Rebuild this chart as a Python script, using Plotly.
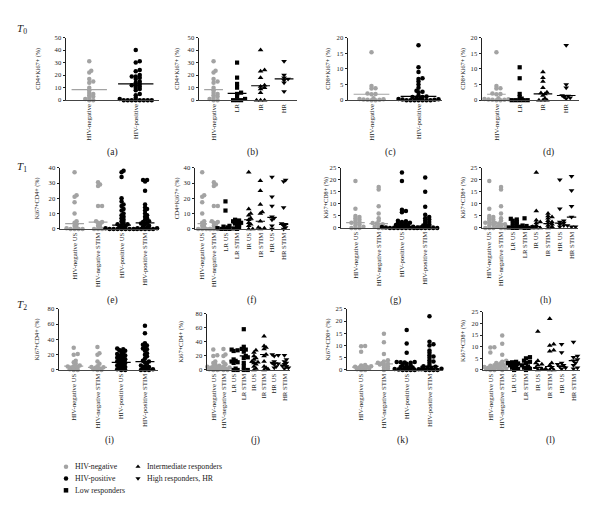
import plotly.graph_objects as go

W, H = 600, 517
GRAY = "#a3a3a3"
FONT = "Liberation Serif"

# ---- categories ----
CATS_T0 = ["HIV-negative", "HIV-positive"]
CATS_T0_R = ["HIV-negative", "LR", "IR", "HR"]
CATS_T = ["HIV-negative US", "HIV-negative STIM", "HIV-positive US", "HIV-positive STIM"]
CATS_T_R = ["HIV-negative US", "HIV-negative STIM", "LR US", "LR STIM",
            "IR US", "IR STIM", "HR US", "HR STIM"]

# ---- T0 CD4+Ki67+ ----
A_NEG = [31, 23.5, 22, 17, 15, 14, 10, 8, 6, 5, 4, 3, 2, 1, 0, 0]
A_POS = [40, 31, 30, 24, 23, 20, 19, 19, 18, 17, 15, 14, 13, 12, 12, 11, 10, 9, 8,
         5, 4, 2, 1, 0, 0, 0, 0, 0, 0, 0, 0]
B_LR = [30, 18, 13, 10, 6, 5, 3, 1, 0, 0, 0]
B_IR = [40, 24, 23, 18, 12, 11, 10, 9, 6, 0, 0, 0]
B_HR = [31, 20, 18, 17, 16, 14, 7]
MED_A = [8.5, 13]
MED_B = [8.5, 5.5, 11.5, 17]

# ---- T0 CD8+Ki67+ ----
C_NEG = [15.3, 4.5, 3.8, 3.7, 2.1, 2.0, 1.9, 0.6, 0.4, 0.3, 0.2, 0.1, 0.1, 0, 0]
C_POS = [17.5, 10.5, 9.0, 7.0, 6.8, 6.0, 5.0, 4.0, 3.0, 2.7, 2.5, 1.5, 1.2, 1.0, 1.0,
         0.8, 0.5, 0.4, 0.3, 0.2, 0.1, 0, 0, 0, 0, 0, 0, 0]
D_LR = [10.5, 7, 2, 1, 0.5, 0, 0, 0, 0, 0]
D_IR = [9, 7.2, 6, 4, 2.5, 2.3, 2, 1.5, 0.5, 0, 0, 0]
D_HR = [17.5, 5, 4, 1.5, 1.3, 1, 0.8, 0.5]
MED_C = [1.9, 1.2]
MED_D = [1.9, 0.1, 2.0, 1.5]

# ---- T1 CD4 ----
E_NEG_US = [37, 22, 21, 17.5, 10, 5, 4, 3, 2, 1, 0.5, 0, 0, 0, 0]
E_NEG_ST = [30.5, 29, 28, 15, 15, 5, 4.5, 4, 3, 2, 1, 0, 0, 0]
E_POS_US = [38, 37, 34, 20, 18, 16, 15, 13, 12, 10, 9, 8, 7, 6, 5, 4, 3, 3, 2.5, 2,
            1.5, 1, 0.5, 0.5, 0, 0, 0, 0, 0, 0, 0]
E_POS_ST = [32, 32, 31, 25, 16, 14, 13, 12, 10, 9, 8, 7, 6, 5, 4.5, 4, 3.5, 3, 2,
            1.5, 1, 0.5, 0, 0, 0, 0, 0]
F_LR_US = [18, 12, 2, 1.5, 1, 0.8, 0.5, 0.3, 0, 0, 0]
F_LR_ST = [6, 5.5, 5, 4.5, 4, 3.5, 3, 2, 1, 0]
F_IR_US = [37, 13, 10, 9, 7, 6, 4, 3, 2, 0, 0]
F_IR_ST = [31.5, 25, 16, 11, 10, 5, 1, 0.5, 0]
F_HR_US = [34, 21, 15, 8, 7, 6, 2, 0]
F_HR_ST = [32, 31, 14, 3.5, 3, 2, 1, 0]
MED_E = [3.5, 4.5, 2.5, 4]
MED_F = [3.5, 4.5, 0.5, 3.5, 6, 5, 7.5, 3]

# ---- T1 CD8 ----
G_NEG_US = [19.5, 8, 5, 4.5, 4, 3.5, 3, 2.5, 2.2, 2, 1.5, 1, 0.5, 0, 0, 0]
G_NEG_ST = [17, 16, 9, 6, 4, 3, 2, 1.8, 1.5, 1, 0.5, 0, 0]
G_POS_US = [23, 19.5, 7.5, 7, 6.5, 3, 2.8, 2.5, 2.2, 2, 1.8, 1.5, 1.2, 1, 0.8, 0.7,
            0.5, 0.4, 0.3, 0.2, 0.1, 0, 0, 0, 0, 0, 0, 0]
G_POS_ST = [21, 15, 8.8, 5.5, 4.5, 4, 3.5, 3, 2.5, 2, 1.5, 1, 0.8, 0.5, 0.5, 0, 0, 0,
            0, 0, 0]
H_LR_US = [3.8, 3.5, 3, 2.5, 2, 1.5, 1, 0.5, 0.2, 0, 0]
H_LR_ST = [4, 1, 0.8, 0.5, 0.3, 0.2, 0, 0]
H_IR_US = [23, 7, 3.2, 2.5, 2, 1, 0.5, 0, 0]
H_IR_ST = [6, 5, 4.5, 4, 3, 2.5, 2, 1.5, 1, 0.5, 0]
H_HR_US = [20, 8, 3, 2.5, 2, 1.5, 1, 0.5]
H_HR_ST = [21.5, 15.5, 9, 4.5, 1, 0.5, 0.5]
MED_G = [2.2, 1.8, 0.7, 0.8]
MED_H = [2.2, 1.8, 0.5, 0.3, 0.5, 1.8, 2, 4.5]

# ---- T2 CD4 ----
I_NEG_US = [29, 21, 20, 12, 10, 8, 6, 5, 4.5, 4, 3, 2, 1, 0, 0]
I_NEG_ST = [30, 22, 20, 11, 8, 5, 4, 3.5, 3, 2, 1, 0, 0]
I_POS_US = [28, 27, 26, 25, 24, 22, 21, 20, 19, 18, 17, 16, 15, 14, 13, 12, 11, 10,
            9, 8, 7, 6, 5, 4, 3, 2, 1, 0, 0]
I_POS_ST = [58, 48, 35, 33, 32, 30, 28, 27, 25, 22, 20, 18, 15, 12, 11, 10, 8, 6, 5,
            4, 3, 2, 1, 0, 0, 0]
J_LR_US = [29, 28, 27, 15, 13, 12, 11, 10, 2, 0, 0]
J_LR_ST = [58, 33, 30, 29, 26, 20, 18, 17, 10, 5, 0, 0]
J_IR_US = [28, 25, 20, 17, 15, 12, 11, 10, 8, 5, 2, 0]
J_IR_ST = [48, 34, 32, 30, 22, 20, 12, 5, 3, 1, 0]
J_HR_US = [22, 21, 20, 12, 10, 9, 8, 5, 3]
J_HR_ST = [21, 15, 12, 10, 8, 6, 5, 3, 2]
MED_I = [5, 3.5, 10, 11]
MED_J = [5, 3.5, 13, 20, 11, 22, 10, 6]

# ---- T2 CD8 ----
K_NEG_US = [9.8, 9.7, 7.5, 2, 1.8, 1.5, 1.3, 1.2, 1, 0.8, 0.5, 0.3, 0, 0]
K_NEG_ST = [14.8, 11.3, 6.5, 4, 3.5, 3, 2.8, 2.5, 2.2, 2, 1.5, 1, 0.5, 0]
K_POS_US = [16.3, 10.8, 7, 3.3, 3.3, 3.2, 3.1, 3, 2.5, 2, 1.8, 1.5, 1.2, 1, 0.8, 0.7,
            0.5, 0.4, 0.3, 0.2, 0, 0, 0, 0]
K_POS_ST = [22, 11.5, 10.5, 10, 8, 7, 6, 5.5, 5, 4, 3.5, 3, 2, 1.5, 1.3, 1, 0.8, 0.5,
            0.3, 0, 0, 0, 0]
L_LR_US = [3.5, 3.3, 3, 2.8, 2.5, 2, 1.5, 1, 0.5, 0]
L_LR_ST = [5.5, 5, 4, 3.5, 3, 2, 1.5, 1, 0.5, 0]
L_IR_US = [16.5, 4, 3, 2.5, 2, 1, 0.5, 0]
L_IR_ST = [22, 11, 10.5, 8.5, 8, 3, 2, 1, 0.5, 0, 0]
L_HR_US = [11, 7.5, 3, 2.5, 2, 1.5, 1, 0.5]
L_HR_ST = [12, 6, 5.5, 4.5, 4, 3, 2, 1, 0.5]
MED_K = [1.2, 2.5, 0.8, 1.5]
MED_L = [1.2, 2.5, 2, 1.5, 1, 1.5, 1.5, 4]

K2 = ["neg", "pos"]
K4 = ["neg", "lr", "ir", "hr"]
KT = ["neg", "neg", "pos", "pos"]
KTR = ["neg", "neg", "lr", "lr", "ir", "ir", "hr", "hr"]

# (letter, cats, kinds, groups, medians, ymax, dtick, ytitle)
PANELS = [
    ("a", CATS_T0, K2, [A_NEG, A_POS], MED_A, 50, 10, "CD4+Ki67+ (%)"),
    ("b", CATS_T0_R, K4, [A_NEG, B_LR, B_IR, B_HR], MED_B, 50, 10, "CD4+Ki67+ (%)"),
    ("c", CATS_T0, K2, [C_NEG, C_POS], MED_C, 20, 5, "CD8+Ki67+ (%)"),
    ("d", CATS_T0_R, K4, [C_NEG, D_LR, D_IR, D_HR], MED_D, 20, 5, "CD8+Ki67+ (%)"),
    ("e", CATS_T, KT, [E_NEG_US, E_NEG_ST, E_POS_US, E_POS_ST], MED_E, 40, 10, "Ki67+CD4+ (%)"),
    ("f", CATS_T_R, KTR, [E_NEG_US, E_NEG_ST, F_LR_US, F_LR_ST, F_IR_US, F_IR_ST, F_HR_US, F_HR_ST],
     MED_F, 40, 10, "CD4+Ki67+ (%)"),
    ("g", CATS_T, KT, [G_NEG_US, G_NEG_ST, G_POS_US, G_POS_ST], MED_G, 25, 5, "Ki67+CD8+ (%)"),
    ("h", CATS_T_R, KTR, [G_NEG_US, G_NEG_ST, H_LR_US, H_LR_ST, H_IR_US, H_IR_ST, H_HR_US, H_HR_ST],
     MED_H, 25, 5, "Ki67+CD8+ (%)"),
    ("i", CATS_T, KT, [I_NEG_US, I_NEG_ST, I_POS_US, I_POS_ST], MED_I, 80, 20, "Ki67+CD4+ (%)"),
    ("j", CATS_T_R, KTR, [I_NEG_US, I_NEG_ST, J_LR_US, J_LR_ST, J_IR_US, J_IR_ST, J_HR_US, J_HR_ST],
     MED_J, 80, 20, "Ki67+CD4+ (%)"),
    ("k", CATS_T, KT, [K_NEG_US, K_NEG_ST, K_POS_US, K_POS_ST], MED_K, 25, 5, "Ki67+CD8+ (%)"),
    ("l", CATS_T_R, KTR, [K_NEG_US, K_NEG_ST, L_LR_US, L_LR_ST, L_IR_US, L_IR_ST, L_HR_US, L_HR_ST],
     MED_L, 25, 5, "Ki67+CD8+ (%)"),
]

# plot boxes in pixels: x0, x1, ytop, ybottom ; title x ; letter x, letter y
BOX = {
    "a": (66, 159, 34, 97.5, 38, 112, 151), "b": (199, 297, 34, 97.5, 177, 252, 151),
    "c": (348, 442, 34, 97.5, 328, 390, 151), "d": (482, 579, 34, 97.5, 463, 548, 151),
    "e": (60, 158, 166, 228, 37, 112, 301), "f": (195, 290, 166, 228, 177, 252, 301),
    "g": (341, 438, 166, 227, 326, 395, 301), "h": (482, 578, 166, 227, 463, 545, 301),
    "i": (59, 158, 309, 371, 37, 110, 442), "j": (207, 290, 314, 371, 181, 255, 442),
    "k": (347, 442, 309, 371, 328, 402, 442), "l": (483, 580, 312, 371, 463, 550, 442),
}

STYLE = {
    "neg": dict(symbol="circle", color=GRAY, size=4.5, name="HIV-negative"),
    "pos": dict(symbol="circle", color="black", size=4.5, name="HIV-positive"),
    "lr": dict(symbol="square", color="black", size=4.2, name="Low responders"),
    "ir": dict(symbol="triangle-up", color="black", size=5, name="Intermediate responders"),
    "hr": dict(symbol="triangle-down", color="black", size=5, name="High responders, HR"),
}


def swarm(vals, ppu, ppc, gap=2.4, step=2.0):
    # greedy beeswarm in pixel space, returns x offsets in category units
    placed, offs = [], {}
    order = sorted(range(len(vals)), key=lambda k: vals[k])
    for k in order:
        y = vals[k] * ppu
        n, ok = 0, None
        while ok is None:
            cands = [0.0] if n == 0 else [n * step, -n * step]
            for dx in cands:
                if all((dx - px) ** 2 + (y - py) ** 2 >= gap ** 2 for px, py in placed):
                    ok = dx
                    break
            n += 1
        placed.append((ok, y))
        offs[k] = ok / ppc
    return [offs[k] for k in range(len(vals))]


def ann(x, y, text, size, **kw):
    d = dict(x=x / W, y=1 - y / H, xref="paper", yref="paper", text=text, showarrow=False,
             xanchor="center", yanchor="middle", font=dict(family=FONT, size=size, color="#222"))
    d.update(kw)
    return d


fig = go.Figure()
layout = {}
annotations = []

for idx, (letter, cats, kinds, groups, meds, ymax, dtick, ytitle) in enumerate(PANELS, start=1):
    x0, x1, yt, yb, tx, lx, ly = BOX[letter]
    n = len(cats)
    xr = [-0.62, n - 0.45] if n > 2 else [-0.5, 1.5]
    ppu = (yb - yt) / ymax
    ppc = (x1 - x0) / (xr[1] - xr[0])
    xa, ya = f"x{idx}", f"y{idx}"
    for ci, (kind, vals, med) in enumerate(zip(kinds, groups, meds)):
        st = STYLE[kind]
        offs = swarm(vals, ppu, ppc)
        fig.add_trace(go.Scatter(
            x=[ci + o for o in offs], y=vals, xaxis=xa, yaxis=ya, mode="markers",
            marker=dict(symbol=st["symbol"], color=st["color"], size=st["size"], line_width=0),
            cliponaxis=False, showlegend=False, hoverinfo="y"))
        half = 0.4 if n > 2 else 0.38
        fig.add_trace(go.Scatter(
            x=[ci - half, ci + half], y=[med, med], xaxis=xa, yaxis=ya, mode="lines",
            line=dict(color=GRAY if kind == "neg" else "black", width=1.2),
            cliponaxis=False, showlegend=False, hoverinfo="skip"))
    layout[f"xaxis{idx}"] = dict(
        domain=[x0 / W, x1 / W], anchor=ya, range=xr, showline=True, linecolor="#444",
        linewidth=1, showgrid=False, zeroline=False, ticks="", tickmode="array",
        tickvals=list(range(n)), ticktext=cats, tickangle=-90,
        tickfont=dict(family=FONT, size=6.8, color="#222"), fixedrange=True)
    layout[f"yaxis{idx}"] = dict(
        domain=[1 - yb / H, 1 - yt / H], anchor=xa, range=[0, ymax], dtick=dtick,
        showline=True, linecolor="#222", linewidth=1, showgrid=False, zeroline=False,
        ticks="outside", ticklen=2.5, tickwidth=1, tickcolor="#222",
        tickfont=dict(family=FONT, size=6.6, color="#222"), fixedrange=True)
    annotations.append(ann(tx, (yt + yb) / 2, ytitle, 6.2, textangle=-90))
    annotations.append(ann(lx, ly, f"({letter})", 9.5))

for t, py in [("0", 25), ("1", 165), ("2", 305)]:
    annotations.append(ann(22, py, f"<i>T</i><sub>{t}</sub>", 11))

# legend: hidden pixel-space axis
LEG = [("neg", 66, 469), ("pos", 66, 481), ("lr", 66, 493), ("ir", 138, 469), ("hr", 138, 481)]
li = len(PANELS) + 1
for kind, px, py in LEG:
    st = STYLE[kind]
    fig.add_trace(go.Scatter(x=[px], y=[py], xaxis=f"x{li}", yaxis=f"y{li}", mode="markers",
                             marker=dict(symbol=st["symbol"], color=st["color"], size=4.5),
                             showlegend=False, hoverinfo="skip", cliponaxis=False))
    annotations.append(ann(px + 7, py, st["name"], 7.8, xanchor="left"))
layout[f"xaxis{li}"] = dict(domain=[0, 1], range=[0, W], visible=False, anchor=f"y{li}",
                            fixedrange=True)
layout[f"yaxis{li}"] = dict(domain=[0, 1], range=[H, 0], visible=False, anchor=f"x{li}",
                            fixedrange=True)

fig.update_layout(
    width=W, height=H, margin=dict(l=0, r=0, t=0, b=0),
    paper_bgcolor="white", plot_bgcolor="rgba(0,0,0,0)",
    showlegend=False, annotations=annotations, **layout)

# drop the browser's default body margin so the figure sits at the window origin
fig.write_html("out.html", config={"displayModeBar": False},
               post_script="document.body.style.margin='0px';")
